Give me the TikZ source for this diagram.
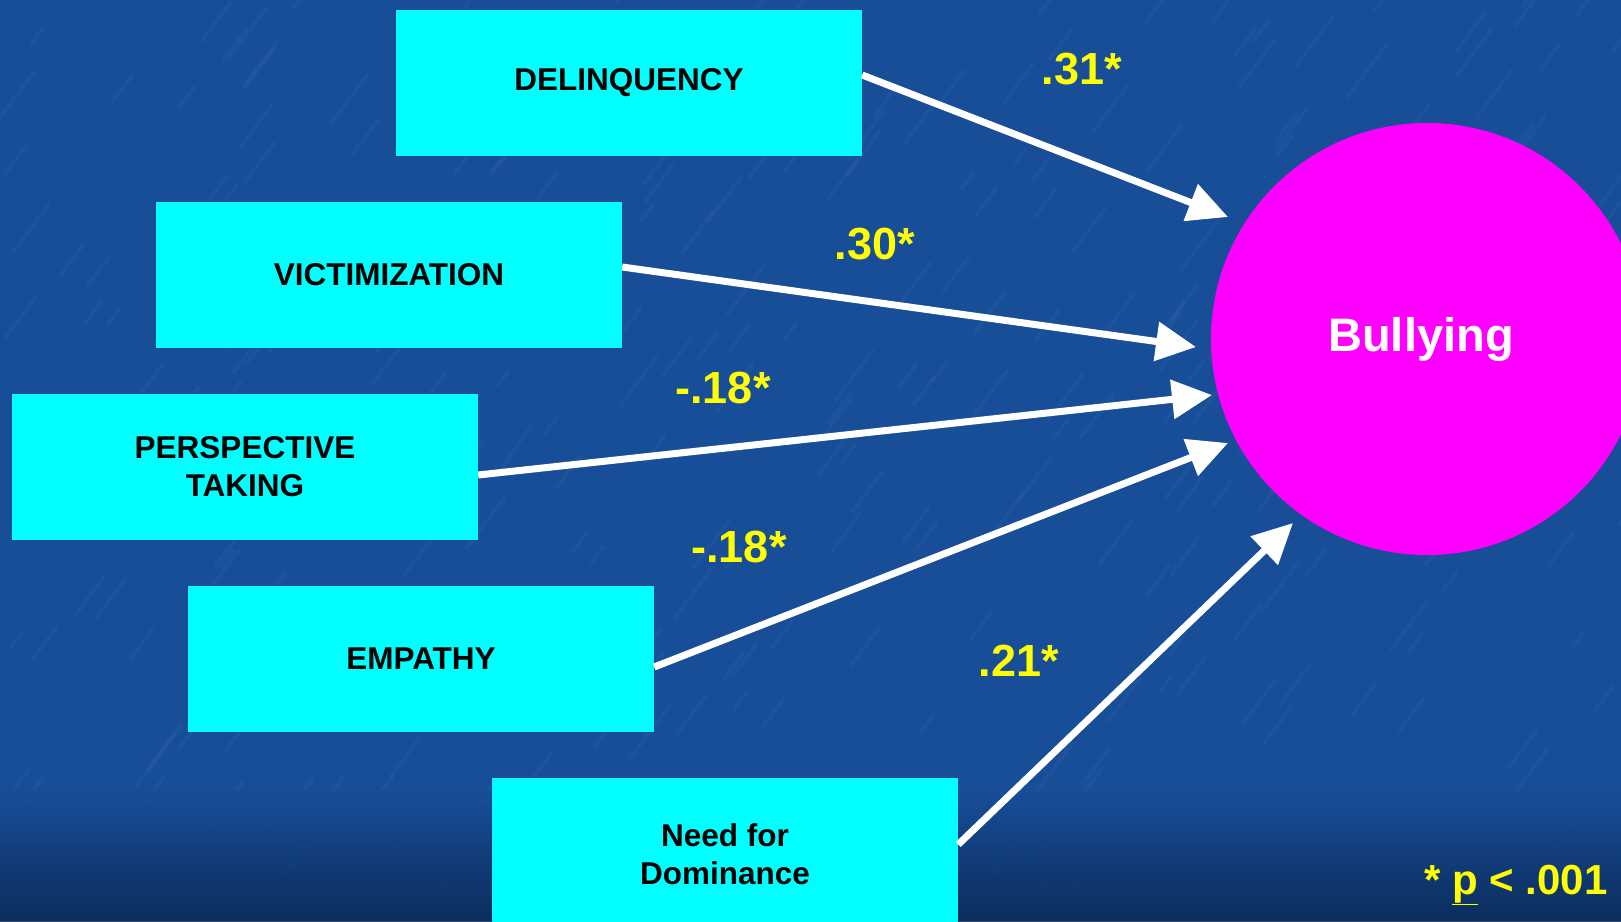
\documentclass[tikz,border=0pt]{standalone}
\usepackage{fontspec}
\setmainfont{Liberation Sans}
\usetikzlibrary{arrows.meta}
\definecolor{bgblue}{RGB}{24,78,152}
\definecolor{bgdark}{RGB}{10,40,82}
\definecolor{streak}{RGB}{80,130,200}
\definecolor{boxcyan}{RGB}{0,255,255}
\definecolor{bullmag}{RGB}{255,0,255}
\definecolor{labyellow}{RGB}{255,255,0}
\begin{document}
\begin{tikzpicture}[x=1pt,y=-1pt,
  box/.style={rectangle, fill=boxcyan, minimum width=466pt, minimum height=146pt, inner sep=0pt,
    font=\fontsize{31.5}{38}\selectfont\bfseries, align=center, text=black},
  coef/.style={text=labyellow, font=\fontsize{45}{50}\selectfont\bfseries, inner sep=0pt},
  arr/.style={draw=white, line width=7pt, -{Triangle[length=40pt,width=38pt]}}]
\useasboundingbox (0,0) rectangle (1621,921);
\clip (0,0) rectangle (1621,921);
% background
\fill[bgblue] (0,0) rectangle (1621,921);
\pgfmathsetseed{7}
\foreach \i in {1,...,320}{
  \pgfmathsetmacro{\sx}{rnd*1621}
  \pgfmathsetmacro{\sy}{rnd*900}
  \pgfmathsetmacro{\sl}{15+rnd*50}
  \draw[streak, opacity=0.10, line width=4pt, line cap=round] (\sx,\sy) -- ++(\sl*0.6,-\sl*0.8);
}
\shade[top color=bgblue, bottom color=bgdark, opacity=0.85] (0,790) rectangle (1621,921);
% boxes
\node[box] (del) at (629,83) {\raisebox{-3pt}{DELINQUENCY}};
\node[box] (vic) at (389,275) {\raisebox{-3pt}{VICTIMIZATION}};
\node[box] (per) at (245,467) {PERSPECTIVE\\TAKING};
\node[box] (emp) at (421,659) {\raisebox{-3pt}{EMPATHY}};
\node[box, minimum height=153pt] (need) at (725,854.5) {Need for\\Dominance};
% outcome
\node[circle, fill=bullmag, minimum size=432pt, inner sep=0pt, text=white,
  font=\fontsize{47}{50}\selectfont\bfseries] (bul) at (1427,339) {\hspace*{-12pt}\raisebox{-5pt}{Bullying}};
% arrow tips
\coordinate (t1) at (1228,217);
\coordinate (t2) at (1196,347);
\coordinate (t3) at (1212,395);
\coordinate (t4) at (1228,443);
\coordinate (t5) at (1293,523);
\draw[arr] ([yshift=8pt]del.east) -- (t1);
\draw[arr] ([yshift=8pt]vic.east) -- (t2);
\draw[arr] ([yshift=-8pt]per.east) -- (t3);
\draw[arr] ([yshift=-8pt]emp.east) -- (t4);
\draw[arr] ([yshift=10pt]need.east) -- (t5);
% coefficients
\node[coef] (c1) at (1082,69) {.31*};
\node[coef] (c2) at (875,244) {.30*};
\node[coef] (c3) at (723,388) {-.18*};
\node[coef] (c4) at (739,547) {-.18*};
\node[coef] (c5) at (1019,661) {.21*};
\node[text=labyellow, font=\fontsize{42}{46}\selectfont\bfseries, inner sep=0pt] (note) at (1516,885)
  {* \underline{p} < .001};
\end{tikzpicture}
\end{document}
